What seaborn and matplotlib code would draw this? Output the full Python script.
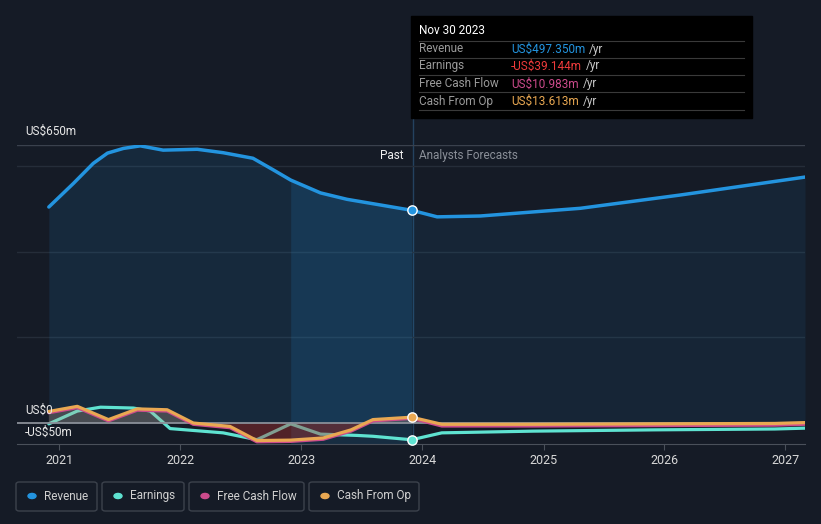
import numpy as np
import pandas as pd
import seaborn as sns
import matplotlib
matplotlib.use('Agg')
import matplotlib.pyplot as plt
from matplotlib.patches import FancyBboxPatch, Rectangle, Circle
from matplotlib.lines import Line2D

# ---- data (US$m, trailing twelve months); first part is history, rest is forecast ----
rev_dates = ['2020-11-30', '2021-02-12', '2021-04-13', '2021-05-26', '2021-07-13', '2021-09-02',
             '2021-11-10', '2022-02-21', '2022-05-10', '2022-08-08', '2022-10-08', '2022-11-30',
             '2023-02-28', '2023-05-19', '2023-08-26', '2023-11-30',
             '2024-02-15', '2024-06-24', '2025-04-22', '2026-02-17', '2027-03-01']
rev_values = [505, 560, 607, 631, 642, 648, 638, 640, 632, 619, 592, 568,
              538, 523, 510, 497.35,
              482, 484, 502, 533, 575]

earn_dates = ['2020-11-30', '2021-02-24', '2021-05-05', '2021-08-12', '2021-10-02', '2021-12-01',
              '2022-05-10', '2022-08-20', '2022-11-30', '2023-02-28', '2023-06-18', '2023-08-05',
              '2023-11-30',
              '2024-02-29', '2024-11-30', '2025-11-30', '2026-11-30', '2027-03-01']
earn_values = [-2, 28, 37, 35, 28, -13, -23, -39, -2, -26, -29, -31, -39.144,
               -23, -19, -16, -14, -12]

cf_dates = ['2020-11-30', '2021-02-24', '2021-05-29', '2021-08-24', '2021-11-22', '2022-02-09',
            '2022-05-31', '2022-08-20', '2022-11-30', '2023-03-08', '2023-05-31', '2023-08-05',
            '2023-11-30',
            '2024-02-29', '2024-11-30', '2025-11-30', '2026-11-30', '2027-03-01']
cfo_values = [27, 39, 8, 33, 31, 0, -8, -41, -40, -35, -16, 8, 13.613,
              -3, -3, -2, -1, 1]
fcf_values = [24, 36, 5, 30, 28, -3, -11, -44, -43, -38, -19, 5, 10.983,
              -7, -7, -6, -5, -3]

years = [2021, 2022, 2023, 2024, 2025, 2026, 2027]
hover_date = '2023-11-30'

BG = '#151b26'
C_REV = '#2394df'
C_EARN = '#5fe3d1'
C_FCF = '#cc4b8c'
C_CFO = '#e9a852'

W, H = 821, 524
plt.rcParams['font.family'] = ['Roboto', 'DejaVu Sans']

fig = plt.figure(figsize=(W / 100, H / 100), dpi=100)
fig.patch.set_facecolor(BG)
ax = fig.add_axes([17 / W, 1 - 444.4 / H, (805 - 17) / W, (444.4 - 145) / H])
ax.set_facecolor('none')

hover = pd.Timestamp(hover_date)
rd = pd.to_datetime(rev_dates)
rv = np.array(rev_values, dtype=float)
ed = pd.to_datetime(earn_dates)
ev = np.array(earn_values, dtype=float)
cd = pd.to_datetime(cf_dates)
cfo = np.array(cfo_values, dtype=float)
fcf = np.array(fcf_values, dtype=float)

# grid lines
for v in [200, 400, 600]:
    ax.axhline(v, color='#252d39', lw=1, zorder=0)
ax.axhline(650, color='#3a414d', lw=1, zorder=0)

# revenue area
past = rd <= hover
fut = rd >= hover
ax.fill_between(rd[past], 0, rv[past], color=C_REV, alpha=0.12, lw=0, zorder=1)
ax.fill_between(rd[fut], 0, rv[fut], color=C_REV, alpha=0.09, lw=0, zorder=1)
# highlighted last year of history
band = past & (rd >= pd.Timestamp('2022-11-30'))
ax.fill_between(rd[band], -50, rv[band], color=C_REV, alpha=0.15, lw=0, zorder=1)

line_kw = dict(solid_joinstyle='round', solid_capstyle='round')

# earnings line sits below the cash-flow fill
sns.lineplot(x=ed, y=ev, ax=ax, color=C_EARN, lw=2.3, zorder=3, **line_kw)

# cash flow fill
ax.fill_between(cd, 0, cfo, where=cfo >= 0, interpolate=True, color='#c9a489', alpha=0.28, lw=0, zorder=4)
ax.fill_between(cd, 0, cfo, where=cfo <= 0, interpolate=True, color='#b8302c', alpha=0.38, lw=0, zorder=4)
ax.axhline(0, color='#8a8f98', lw=1.3, zorder=4)

sns.lineplot(x=cd, y=fcf, ax=ax, color=C_FCF, lw=2.3, zorder=5, **line_kw)
sns.lineplot(x=cd, y=cfo, ax=ax, color=C_CFO, lw=2.3, zorder=6, **line_kw)
sns.lineplot(x=rd, y=rv, ax=ax, color=C_REV, lw=2.5, zorder=6, **line_kw)

# hover markers
for d, v, col in [(rd, rv, C_REV), (ed, ev, C_EARN), (cd, cfo, C_CFO)]:
    ax.scatter([hover], v[d == hover], s=45, color=col, edgecolor='white', lw=1.0, zorder=8, clip_on=False)

ax.set_xlim(pd.Timestamp('2020-08-26'), pd.Timestamp('2027-03-01'))
ax.set_ylim(-50, 650)
ax.set_xticks([pd.Timestamp(f'{y}-01-01') for y in years])
ax.set_xticklabels([str(y) for y in years])
ax.set_yticks([])
ax.set_xlabel('')
ax.set_ylabel('')
for s in ['top', 'right', 'left']:
    ax.spines[s].set_visible(False)
ax.spines['bottom'].set_color('#4a505a')
ax.tick_params(axis='x', colors='#4a505a', length=4, pad=3, labelcolor='#d8d8d8', labelsize=9)


def px(x, y):
    return x / W, 1 - y / H


# vertical hover line (behind the transparent axes)
fig.add_artist(Line2D([412.5 / W, 412.5 / W], [1 - 118 / H, 1 - 444 / H], color='#24425f', lw=1, zorder=-1))

# y labels
fig.text(*px(25, 131), 'US$650m', color='#e8e8e8', fontsize=8.5, va='center')
fig.text(*px(25, 410), 'US$0', color='#e8e8e8', fontsize=8.5, va='center')
fig.text(*px(25, 432), '-US$50m', color='#e8e8e8', fontsize=8.5, va='center')

fig.text(*px(403, 156), 'Past', color='#f0f0f0', fontsize=8.5, va='center', ha='right')
fig.text(*px(419, 156), 'Analysts Forecasts', color='#8a8f98', fontsize=8.5, va='center')

# tooltip
fig.add_artist(Rectangle(px(411, 118), 341 / W, 102 / H, color='#000000', zorder=9))
fig.text(*px(419, 31), 'Nov 30 2023', color='white', fontsize=8.5, va='center', zorder=10)
for yy in [41, 58, 75, 92, 110]:
    fig.add_artist(Line2D([419 / W, 744 / W], [1 - yy / H, 1 - yy / H], color='#3a3a3a', lw=0.8, zorder=10))
rows = [('Revenue', 'US$497.350m', C_REV), ('Earnings', '-US$39.144m', '#ee3b3b'),
        ('Free Cash Flow', 'US$10.983m', C_FCF), ('Cash From Op', 'US$13.613m', C_CFO)]
fig.canvas.draw()
renderer = fig.canvas.get_renderer()
for (lab, val, col), yy in zip(rows, [49, 66, 84, 101]):
    fig.text(*px(419, yy), lab, color='#9a9a9a', fontsize=8.5, va='center', zorder=10)
    t = fig.text(*px(511, yy), val, color=col, fontsize=8.5, va='center', zorder=10)
    bb = t.get_window_extent(renderer)
    fig.text(bb.x1 / W + 4 / W, 1 - yy / H, '/yr', color='#c8c8c8', fontsize=8.5, va='center', zorder=10)

# legend
legend = [('Revenue', C_REV, 16, 97), ('Earnings', C_EARN, 102, 184),
          ('Free Cash Flow', C_FCF, 189, 304), ('Cash From Op', C_CFO, 309, 419)]
for lab, col, x0, x1 in legend:
    fig.add_artist(FancyBboxPatch(px(x0, 511), (x1 - x0) / W, 29 / H,
                                  boxstyle='round,pad=0,rounding_size=0.004',
                                  fc=BG, ec='#3c424c', lw=1))
    fig.add_artist(Circle(px(x0 + 16, 496), 4 / W, color=col))
    fig.text(*px(x0 + 28, 496), lab, color='#d0d0d0', fontsize=8.5, va='center')

fig.savefig('out.png', dpi=100, facecolor=BG)
